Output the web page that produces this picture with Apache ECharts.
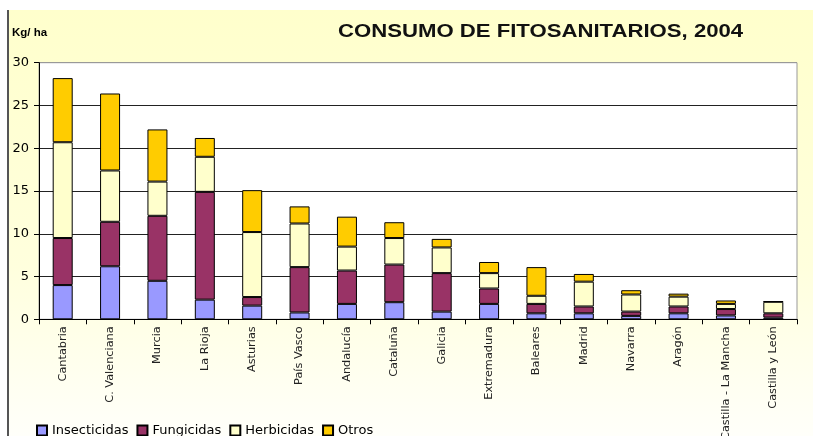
<!DOCTYPE html>
<html>
<head>
<meta charset="utf-8">
<script src="https://cdn.jsdelivr.net/npm/echarts@6/dist/echarts.min.js"></script>
<style>
html,body{margin:0;padding:0;background:#fff;}
#c{width:813px;height:436px;}
</style>
</head>
<body>
<div id="c"></div>
<script>
const categories = ['Cantabria','C. Valenciana','Murcia','La Rioja','Asturias','País Vasco','Andalucía','Cataluña','Galicia','Extremadura','Baleares','Madrid','Navarra','Aragón','Castilla - La Mancha','Castilla y León'];
const insecticidas = [4.0, 6.2, 4.5, 2.3, 1.6, 0.8, 1.8, 2.0, 0.9, 1.8, 0.7, 0.7, 0.4, 0.7, 0.45, 0.2];
const fungicidas   = [5.5, 5.2, 7.6, 12.6, 1.0, 5.3, 3.9, 4.4, 4.5, 1.8, 1.1, 0.8, 0.5, 0.8, 0.75, 0.5];
const herbicidas   = [11.2, 6.0, 4.0, 4.1, 7.6, 5.1, 2.8, 3.1, 3.0, 1.8, 0.95, 2.9, 2.0, 1.15, 0.6, 1.35];
const otros        = [7.5, 9.0, 6.1, 2.2, 4.9, 2.0, 3.5, 1.85, 1.0, 1.3, 3.35, 0.9, 0.5, 0.35, 0.4, 0.05];
const seriesNames = ['Insecticidas','Fungicidas','Herbicidas','Otros'];
const seriesColors = ['#9999FF','#993366','#FFFFCC','#FFCC00'];
const yTicks = [0,5,10,15,20,25,30];

const font = '"DejaVu Sans", Verdana, sans-serif';
const fontArial = '"Liberation Sans", Arial, sans-serif';
const chart = echarts.init(document.getElementById('c'), null, {renderer:'canvas'});
const dataSets = [insecticidas, fungicidas, herbicidas, otros];

chart.setOption({
  animation: false,
  backgroundColor: '#fff',
  textStyle: {fontFamily: font},
  graphic: [
    {type:'rect', z:-10, shape:{x:9, y:10, width:804, height:426},
     style:{fill:new echarts.graphic.LinearGradient(0,0,0,1,[{offset:0,color:'#FFFFCC'},{offset:0.6,color:'#FFFFDD'},{offset:1,color:'#FFFFFA'}])}},
    {type:'line', z:-5, shape:{x1:8, y1:10, x2:8, y2:436}, style:{stroke:'#555', lineWidth:2}},
    {type:'text', x:12, y:28, scaleX:1.15, style:{text:'Kg/ ha', font:'bold 10px '+fontArial, fill:'#000'}},
    {type:'text', x:338, y:32, scaleX:1.23, style:{text:'CONSUMO DE FITOSANITARIOS, 2004', font:'bold 18px '+fontArial, fill:'#111', textVerticalAlign:'middle', textAlign:'left'}}
  ],
  legend: {
    left: 36, top: 424, padding: 0,
    itemWidth: 10, itemHeight: 10, itemGap: 8,
    icon: 'rect',
    textStyle: {fontFamily: font, fontSize: 13, color: '#000'},
    data: seriesNames
  },
  grid: {
    left: 39, top: 62.7, right: 16, bottom: 116.7,
    show: true, backgroundColor: '#fff', borderColor: '#999', borderWidth: 1,
    containLabel: false,
    outerBoundsMode: 'none'
  },
  xAxis: {
    type: 'category',
    data: categories,
    axisLine: {lineStyle: {color: '#000', width: 1}},
    axisTick: {show: true, length: 5, lineStyle: {color: '#000'}},
    axisLabel: {rotate: 90, interval: 0, margin: 7, fontFamily: font, fontSize: 11.3, color: '#222'}
  },
  yAxis: {
    type: 'value',
    min: yTicks[0], max: yTicks[yTicks.length-1], interval: 5,
    axisLine: {show: true, lineStyle: {color: '#000'}},
    axisTick: {show: true, length: 5, lineStyle: {color: '#000'}},
    axisLabel: {margin: 10, fontFamily: font, fontSize: 13, color: '#000'},
    splitLine: {show: true, lineStyle: {color: ['#222','#222','#222','#222','#222','#222','#999'], width: 1}}
  },
  series: seriesNames.map((n, i) => ({
    name: n,
    type: 'bar',
    stack: 'total',
    barWidth: 20,
    data: dataSets[i],
    itemStyle: {color: seriesColors[i], borderColor: '#000', borderWidth: 1}
  }))
});
</script>
</body>
</html>
